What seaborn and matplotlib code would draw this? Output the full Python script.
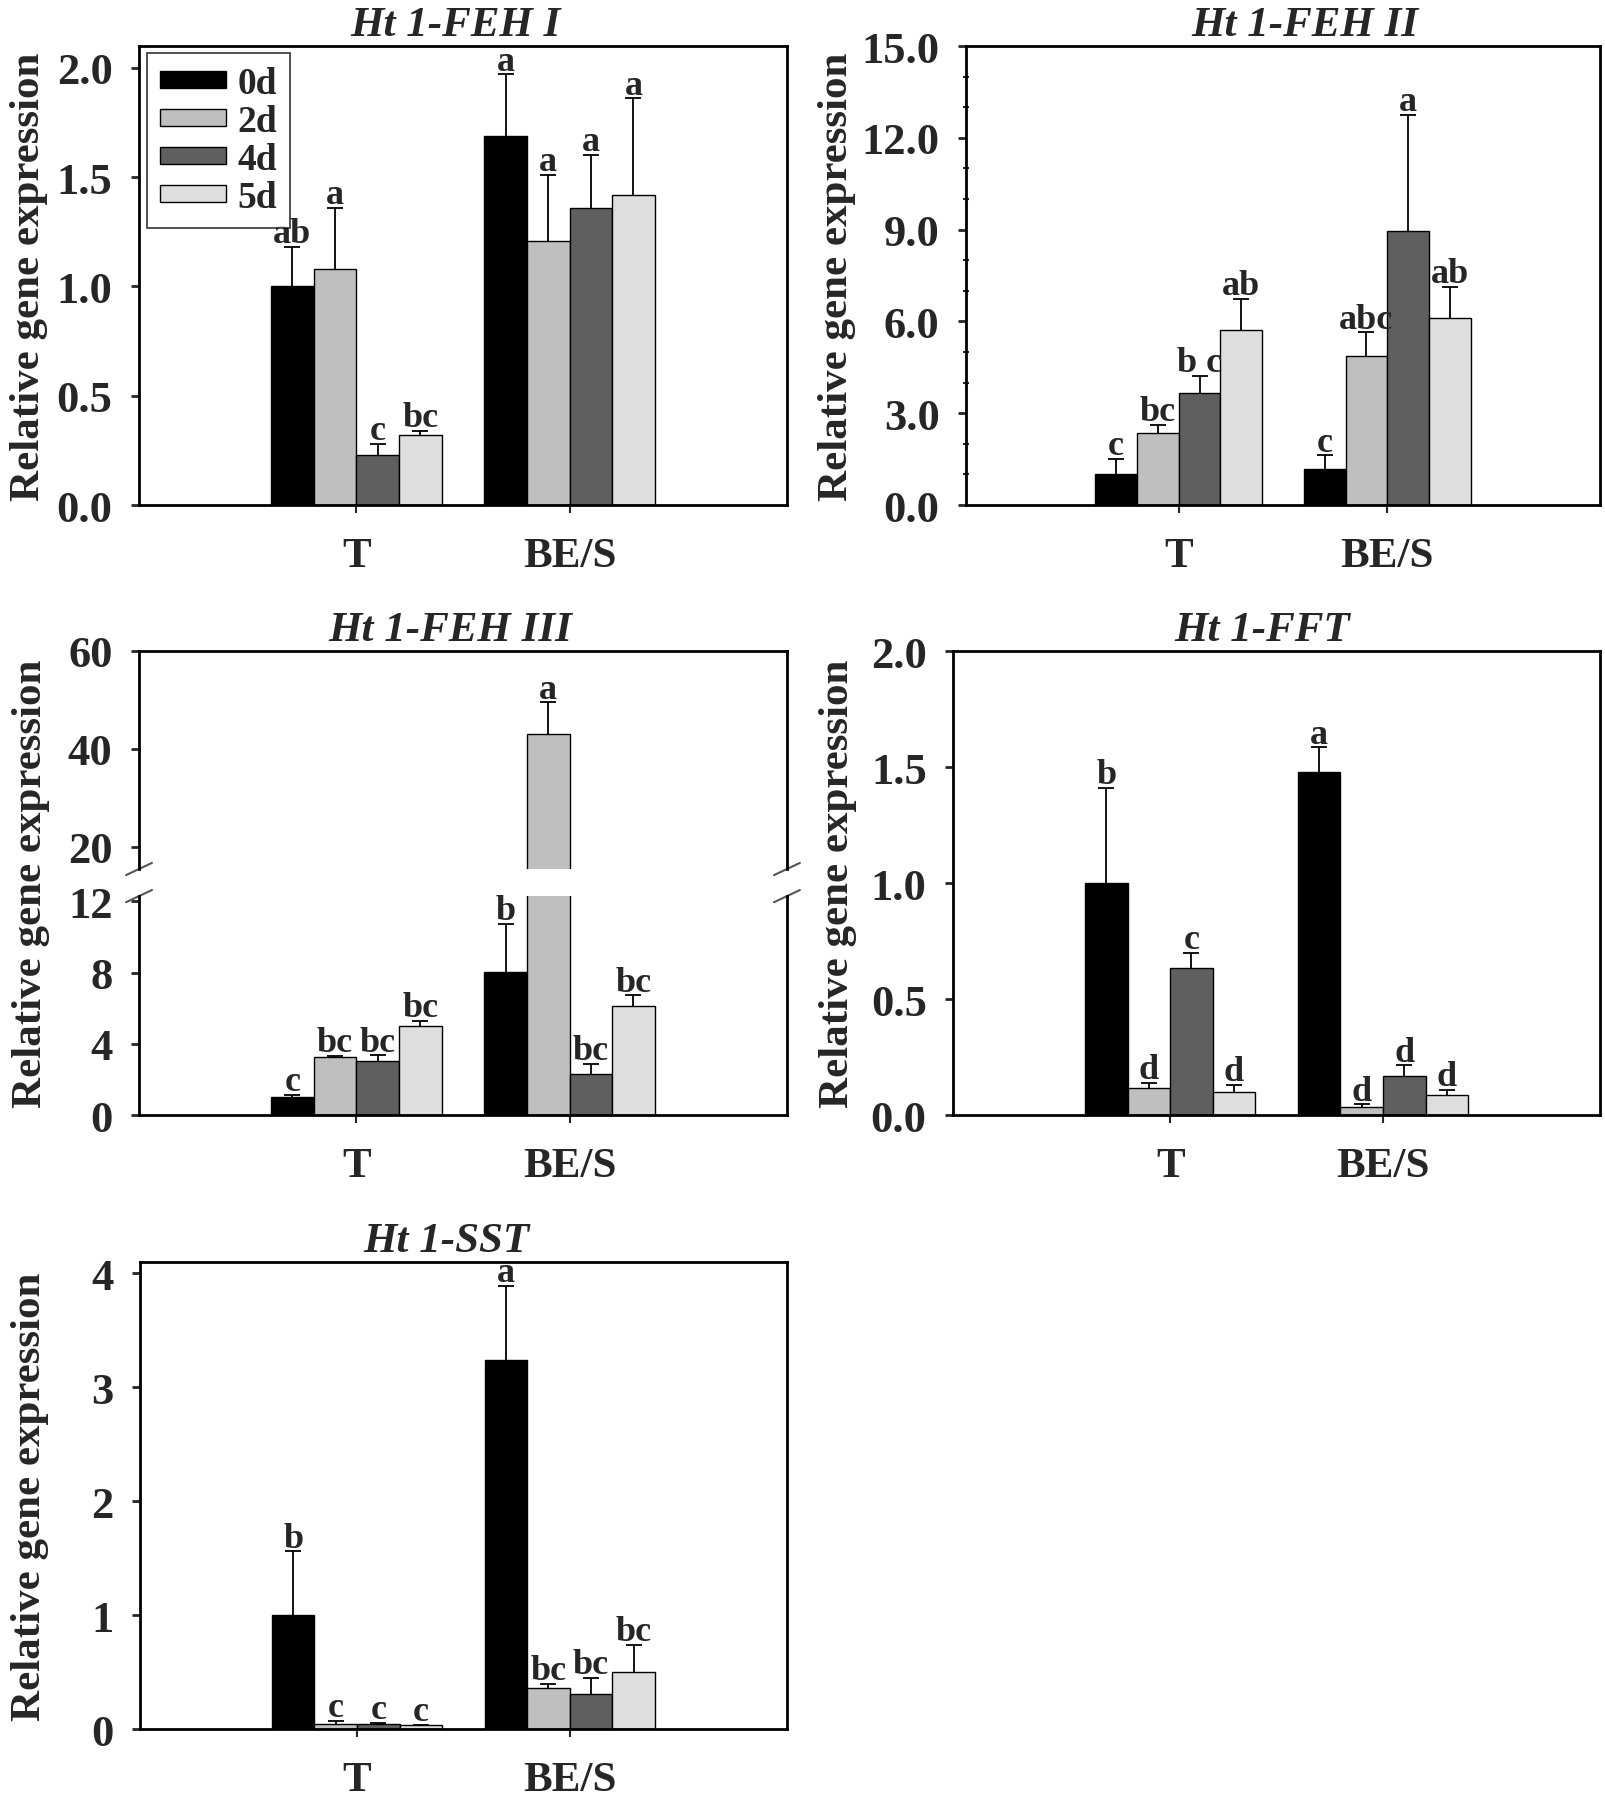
import matplotlib
matplotlib.use('Agg')
import pandas as pd
import matplotlib.pyplot as plt
import seaborn as sns
from matplotlib.ticker import MultipleLocator, FormatStrFormatter, FixedLocator

# categories
tissues = ['T', 'BE/S']
days = ['0d', '2d', '4d', '5d']
colors = {'0d': '#000000', '2d': '#bfbfbf', '4d': '#5f5f5f', '5d': '#dedede'}

# Ht 1-FEH I
feh1_T = [1.00, 1.08, 0.23, 0.32]
feh1_T_err = [0.18, 0.28, 0.05, 0.02]
feh1_BES = [1.69, 1.21, 1.36, 1.42]
feh1_BES_err = [0.28, 0.30, 0.24, 0.44]
feh1_T_let = ['ab', 'a', 'c', 'bc']
feh1_BES_let = ['a', 'a', 'a', 'a']

# Ht 1-FEH II
feh2_T = [1.00, 2.35, 3.67, 5.71]
feh2_T_err = [0.52, 0.27, 0.55, 1.02]
feh2_BES = [1.18, 4.86, 8.96, 6.11]
feh2_BES_err = [0.44, 0.78, 3.80, 1.03]
feh2_T_let = ['c', 'bc', 'b c', 'ab']
feh2_BES_let = ['c', 'abc', 'a', 'ab']

# Ht 1-FEH III
feh3_T = [1.02, 3.24, 3.03, 4.98]
feh3_T_err = [0.11, 0.09, 0.32, 0.29]
feh3_BES = [8.05, 43.0, 2.28, 6.13]
feh3_BES_err = [2.70, 6.5, 0.59, 0.59]
feh3_T_let = ['c', 'bc', 'bc', 'bc']
feh3_BES_let = ['b', 'a', 'bc', 'bc']

# Ht 1-FFT
fft_T = [1.00, 0.115, 0.635, 0.10]
fft_T_err = [0.41, 0.025, 0.065, 0.03]
fft_BES = [1.48, 0.033, 0.168, 0.086]
fft_BES_err = [0.105, 0.013, 0.046, 0.021]
fft_T_let = ['b', 'd', 'c', 'd']
fft_BES_let = ['a', 'd', 'd', 'd']

# Ht 1-SST
sst_T = [1.00, 0.045, 0.048, 0.034]
sst_T_err = [0.56, 0.025, 0.005, 0.005]
sst_BES = [3.24, 0.36, 0.31, 0.50]
sst_BES_err = [0.65, 0.035, 0.14, 0.24]
sst_T_let = ['b', 'c', 'c', 'c']
sst_BES_let = ['a', 'bc', 'bc', 'bc']


def make_df(t_vals, b_vals, t_err, b_err, t_let, b_let):
    rows = []
    for tissue, vals, errs, lets in [('T', t_vals, t_err, t_let), ('BE/S', b_vals, b_err, b_let)]:
        for d, v, e, l in zip(days, vals, errs, lets):
            rows.append({'tissue': tissue, 'day': d, 'value': v, 'err': e, 'letter': l})
    return pd.DataFrame(rows)


sns.set_style('ticks')
plt.rcParams['font.family'] = ['Liberation Serif', 'DejaVu Serif']
plt.rcParams['font.weight'] = 'bold'
plt.rcParams['axes.labelweight'] = 'bold'
plt.rcParams['axes.titleweight'] = 'bold'
plt.rcParams['axes.edgecolor'] = 'black'
plt.rcParams['axes.linewidth'] = 2.0

LAB = 31
TITLE = 31
TICK = 32
XTICK = 31
LET = 26


def draw_bars(ax, df, ylim, legend=False, letters=True):
    sns.barplot(data=df, x='tissue', y='value', hue='day', order=tissues, hue_order=days,
                palette=colors, saturation=1, edgecolor='black', linewidth=1.0,
                errorbar=None, width=0.8, legend=legend, ax=ax)
    for cont, d in zip(ax.containers, days):
        for bar in cont:
            xc = bar.get_x() + bar.get_width() / 2
            tissue = tissues[int(round(xc))]
            row = df[(df['tissue'] == tissue) & (df['day'] == d)].iloc[0]
            eb = ax.errorbar([xc], [row['value']], yerr=[[0], [row['err']]], fmt='none',
                             ecolor='black', elinewidth=1.3, capsize=6, capthick=1.3)
            eb[1][0].set_visible(False)
            top = row['value'] + row['err']
            if letters and ylim[0] <= top <= ylim[1]:
                ax.annotate(row['letter'], (xc, top), xytext=(0, 3.5), textcoords='offset points',
                            ha='center', va='baseline', fontsize=LET, fontweight='bold')
    ax.set_xlim(-1.02, 2.02)
    ax.set_ylim(*ylim)
    ax.set_xlabel('')
    ax.set_ylabel('')
    for s in ax.spines.values():
        s.set_visible(True)
        s.set_linewidth(2.0)
    ax.tick_params(axis='y', direction='out', length=6, width=2, labelsize=TICK, pad=13)
    ax.tick_params(axis='x', direction='out', length=6, width=1.5, labelsize=XTICK, pad=17)


def style_title(ax, text, xpos):
    ax.set_title(text, fontsize=TITLE, fontweight='bold', fontstyle='italic', pad=8, x=xpos)


fig = plt.figure(figsize=(16.05, 18.08), dpi=100)
ax_tl = fig.add_axes([0.0866, 0.7201, 0.4037, 0.2539])
ax_tr = fig.add_axes([0.6019, 0.7201, 0.3950, 0.2539])
ax_mu = fig.add_axes([0.0866, 0.5188, 0.4037, 0.1206])
ax_ml = fig.add_axes([0.0866, 0.3827, 0.4037, 0.1211])
ax_mr = fig.add_axes([0.5938, 0.3827, 0.4031, 0.2566])
ax_bl = fig.add_axes([0.0872, 0.0431, 0.4030, 0.2583])

# Ht 1-FEH I
df1 = make_df(feh1_T, feh1_BES, feh1_T_err, feh1_BES_err, feh1_T_let, feh1_BES_let)
draw_bars(ax_tl, df1, (0, 2.1), legend=True)
ax_tl.yaxis.set_major_locator(FixedLocator([0, 0.5, 1.0, 1.5, 2.0]))
ax_tl.yaxis.set_major_formatter(FormatStrFormatter('%.1f'))
style_title(ax_tl, 'Ht 1-FEH I', 0.488)
ax_tl.set_ylabel('Relative gene expression', fontsize=LAB)
ax_tl.yaxis.set_label_coords(-0.141, 0.5)
h, l = ax_tl.get_legend_handles_labels()
leg = ax_tl.legend(h, l, loc='upper left', bbox_to_anchor=(0.012, 0.985), borderaxespad=0,
                   fontsize=27, frameon=True, fancybox=False, edgecolor='black',
                   handlelength=1.76, handleheight=0.35, handletextpad=0.3,
                   labelspacing=0.08, borderpad=0.35, title=None)
leg.get_frame().set_linewidth(1.2)
for t in leg.get_texts():
    t.set_fontweight('bold')

# Ht 1-FEH II
df2 = make_df(feh2_T, feh2_BES, feh2_T_err, feh2_BES_err, feh2_T_let, feh2_BES_let)
draw_bars(ax_tr, df2, (0, 15))
ax_tr.yaxis.set_major_locator(MultipleLocator(3.0))
ax_tr.yaxis.set_minor_locator(MultipleLocator(1.0))
ax_tr.yaxis.set_major_formatter(FormatStrFormatter('%.1f'))
ax_tr.tick_params(axis='y', which='minor', direction='inout', length=4, width=1.5)
style_title(ax_tr, 'Ht 1-FEH II', 0.535)
ax_tr.set_ylabel('Relative gene expression', fontsize=LAB)
ax_tr.yaxis.set_label_coords(-0.174, 0.5)

# Ht 1-FEH III (broken axis)
df3 = make_df(feh3_T, feh3_BES, feh3_T_err, feh3_BES_err, feh3_T_let, feh3_BES_let)
draw_bars(ax_mu, df3, (15.5, 60))
draw_bars(ax_ml, df3, (0, 12.3))
ax_mu.yaxis.set_major_locator(FixedLocator([20, 40, 60]))
ax_ml.yaxis.set_major_locator(FixedLocator([0, 4, 8, 12]))
ax_mu.spines['bottom'].set_visible(False)
ax_ml.spines['top'].set_visible(False)
ax_mu.tick_params(axis='x', which='both', bottom=False, labelbottom=False)
style_title(ax_mu, 'Ht 1-FEH III', 0.481)
fig.text(31 / 1605, 0.511, 'Relative gene expression', rotation=90, ha='center', va='center',
         fontsize=LAB, fontweight='bold')
dx, dy = 0.02, 0.028
for ax, yy in [(ax_mu, 0.0), (ax_ml, 1.0)]:
    for xx in (0.0, 1.0):
        k = dy * (0.1206 / 0.1211 if ax is ax_ml else 1.0)
        ax.plot([xx - dx, xx + dx], [yy - k, yy + k], transform=ax.transAxes,
                color='#555555', lw=1.5, clip_on=False)

# Ht 1-FFT
df4 = make_df(fft_T, fft_BES, fft_T_err, fft_BES_err, fft_T_let, fft_BES_let)
draw_bars(ax_mr, df4, (0, 2.0))
ax_mr.yaxis.set_major_locator(MultipleLocator(0.5))
ax_mr.yaxis.set_major_formatter(FormatStrFormatter('%.1f'))
style_title(ax_mr, 'Ht 1-FFT', 0.478)
ax_mr.set_ylabel('Relative gene expression', fontsize=LAB)
ax_mr.yaxis.set_label_coords(-0.149, 0.5)

# Ht 1-SST
df5 = make_df(sst_T, sst_BES, sst_T_err, sst_BES_err, sst_T_let, sst_BES_let)
draw_bars(ax_bl, df5, (0, 4.1))
ax_bl.yaxis.set_major_locator(FixedLocator([0, 1, 2, 3, 4]))
style_title(ax_bl, 'Ht 1-SST', 0.474)
ax_bl.set_ylabel('Relative gene expression', fontsize=LAB)
ax_bl.yaxis.set_label_coords(-0.141, 0.5)

fig.savefig('out.png', dpi=100, facecolor='white')
